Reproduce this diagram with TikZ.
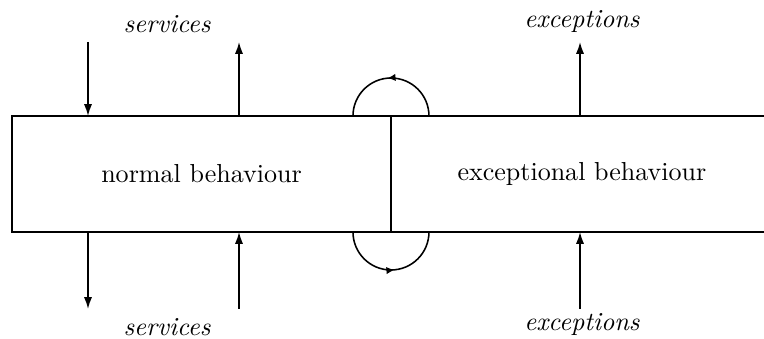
\documentclass[tikz,border=0pt]{standalone}
\usetikzlibrary{arrows.meta,positioning,decorations.markings}
\tikzset{
  beh/.style={draw,line width=.6pt,minimum height=1.566cm,inner sep=0pt,outer sep=0pt},
  lab/.style={font=\itshape,inner sep=0pt},
  flow/.style={-{Latex[length=1.6mm,width=1.1mm]},line width=.6pt},
  turn/.style={line width=.6pt,postaction=decorate,
    decoration={markings,mark=at position .53 with
      {\arrow{Latex[length=1.1mm,width=1mm]}}}},
}
\begin{document}
\begin{tikzpicture}[x=0.0135cm,y=0.0135cm]
  \useasboundingbox (0,0) rectangle (764,339);
  % the two halves of the component
  \node[beh,minimum width=5.117cm] (norm) at (201.5,165) {normal behaviour};
  \node[beh,draw=none,minimum width=5.157cm,anchor=west] (exc) at (norm.east)
    {exceptional behaviour};
  \coordinate (rend) at (764,0);
  \draw[line width=.6pt] (exc.north west) -- (exc.north west -| rend);
  \draw[line width=.6pt] (exc.south west) -- (exc.south west -| rend);
  % free ends of the interface arrows
  \foreach \x/\n in {88/a,239/b,580/e}{
    \coordinate (t\n) at (\x,297);
    \coordinate (b\n) at (\x,30);}
  \draw[flow] (ta) -- (ta |- norm.north);
  \draw[flow] (tb |- norm.north) -- (tb);
  \draw[flow] (ba |- norm.south) -- (ba);
  \draw[flow] (bb) -- (bb |- norm.south);
  \draw[flow] (te |- exc.north) -- (te);
  \draw[flow] (be) -- (be |- exc.south);
  \node[lab] (svtop) at (167,315) {services};
  \node[lab] (svbot) at (167,12) {services};
  \node[lab] (extop) at (582,317) {exceptions};
  \node[lab] (exbot) at (582,14) {exceptions};
  % switching between the two
  \draw[turn] (norm.north east) ++(38,0) arc[start angle=0,end angle=180,radius=38];
  \draw[turn] (norm.south east) ++(-38,0) arc[start angle=180,end angle=360,radius=38];
\end{tikzpicture}
\end{document}
